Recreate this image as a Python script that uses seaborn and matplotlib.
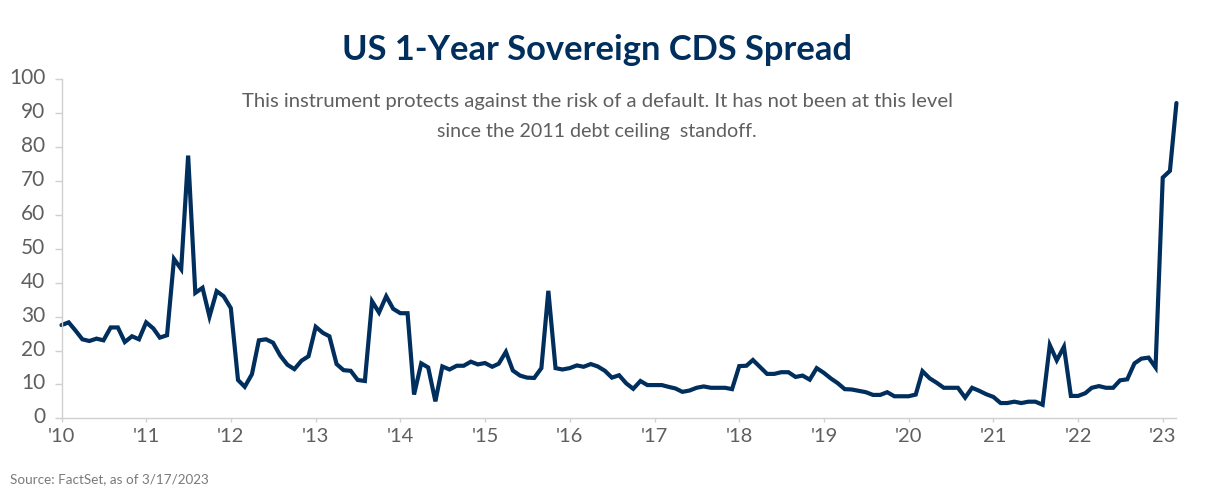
import matplotlib
matplotlib.use('Agg')
import matplotlib.pyplot as plt
import matplotlib.transforms as mtransforms
import pandas as pd
import seaborn as sns

# monthly readings, Jan 2010 - Mar 2023
y2010 = [27.5, 28.3, 26, 23.3, 22.8, 23.5, 23, 26.8, 26.8, 22.5, 24.2, 23.3]
y2011 = [28.3, 26.5, 23.8, 24.5, 47, 44, 77.5, 37, 38.5, 30, 37.5, 36]
y2012 = [32.5, 11.3, 9.3, 13, 23, 23.3, 22.3, 18.5, 15.8, 14.5, 17, 18.3]
y2013 = [27, 25.2, 24.2, 16, 14.2, 14, 11.3, 11, 34.5, 31.2, 36, 32.3]
y2014 = [31, 31, 7, 16.2, 15, 5, 15.3, 14.4, 15.5, 15.5, 16.7, 15.9]
y2015 = [16.3, 15.2, 16.1, 19.6, 14.1, 12.6, 12, 11.9, 14.8, 37.6, 14.8, 14.4]
y2016 = [14.8, 15.6, 15.2, 16, 15.3, 14, 12, 12.7, 10.3, 8.7, 11, 9.8]
y2017 = [9.8, 9.8, 9.3, 8.8, 7.8, 8.2, 9, 9.4, 9, 9, 9, 8.6]
y2018 = [15.4, 15.5, 17.2, 15.1, 13.1, 13.1, 13.6, 13.6, 12.2, 12.6, 11.4, 14.8]
y2019 = [13.4, 11.7, 10.4, 8.6, 8.5, 8.1, 7.7, 6.9, 6.9, 7.7, 6.5, 6.5]
y2020 = [6.5, 7, 13.9, 11.8, 10.5, 9, 9, 9, 6.1, 9, 8.1, 7.1]
y2021 = [6.3, 4.5, 4.5, 4.9, 4.5, 4.9, 4.9, 4, 21.6, 17.1, 21.1, 6.6]
y2022 = [6.6, 7.4, 9, 9.5, 9, 9, 11.2, 11.5, 16.2, 17.6, 17.9, 15]
y2023 = [71, 73, 93]

values = (y2010 + y2011 + y2012 + y2013 + y2014 + y2015 + y2016 + y2017
          + y2018 + y2019 + y2020 + y2021 + y2022 + y2023)
dates = pd.date_range('2010-01-01', periods=len(values), freq='MS')
df = pd.DataFrame({'date': dates, 'spread': values})

year_ticks = pd.date_range('2010-01-01', '2023-01-01', freq='YS')
year_labels = ["'" + str(d.year)[2:] for d in year_ticks]
y_ticks = list(range(0, 101, 10))

NAVY = '#002e5d'
GREY = '#5f5f62'
AXIS = '#d0d0d0'

sns.set_theme(style='white')
plt.rcParams['font.family'] = ['Lato', 'DejaVu Sans']

W, H = 1207, 499
fig = plt.figure(figsize=(W / 100, H / 100), dpi=100)
ax = fig.add_axes([61.5 / W, 1 - 418.3 / H, (1175.5 - 61.5) / W, (418.3 - 79.3) / H])

sns.lineplot(data=df, x='date', y='spread', color=NAVY, linewidth=3.0, ax=ax, clip_on=False)
ax.lines[0].set_solid_joinstyle('miter')

ax.set_xlim(pd.Timestamp('2010-01-01'), pd.Timestamp('2023-02-25'))
ax.set_ylim(0, 100)
ax.set_xticks(year_ticks)
ax.set_xticklabels(year_labels)
ax.set_yticks(y_ticks)
ax.set_xlabel('')
ax.set_ylabel('')
ax.tick_params(axis='x', length=3, width=1, color=AXIS, labelsize=14.5, labelcolor=GREY, pad=4, bottom=True)
ax.tick_params(axis='y', length=4.7, width=1, color=AXIS, labelsize=15, labelcolor=GREY, pad=7, left=True)
for s in ['top', 'right']:
    ax.spines[s].set_visible(False)
for s in ['left', 'bottom']:
    ax.spines[s].set_color(AXIS)
    ax.spines[s].set_linewidth(1)

# y labels sit a little above their ticks in the original
nudge = mtransforms.ScaledTranslation(0, 3 / 100, fig.dpi_scale_trans)
for lab in ax.get_yticklabels():
    lab.set_transform(lab.get_transform() + nudge)

fig.text(597.5 / W, 1 - 50 / H, 'US 1-Year Sovereign CDS Spread', ha='center', va='center',
         fontsize=24.85, fontweight='bold', color=NAVY)
fig.text(597 / W, 1 - 101.5 / H, 'This instrument protects against the risk of a default. It has not been at this level',
         ha='center', va='center', fontsize=14.55, color=GREY)
fig.text(597 / W, 1 - 131.5 / H, 'since the 2011 debt ceiling  standoff.',
         ha='center', va='center', fontsize=14.1, color=GREY)
fig.text(10 / W, 1 - 479 / H, 'Source: FactSet, as of 3/17/2023', ha='left', va='center',
         fontsize=9.7, color='#7a7a7c')

fig.savefig('out.png', dpi=100, facecolor='white')
